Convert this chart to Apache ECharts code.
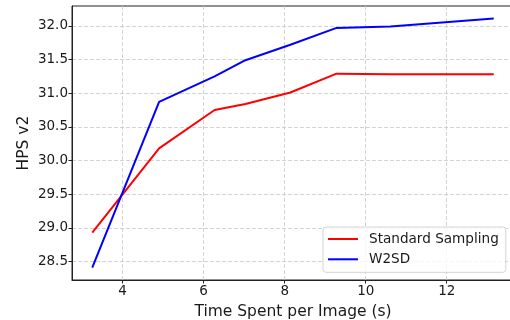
<!DOCTYPE html>
<html>
<head>
<meta charset="utf-8">
<script src="https://cdn.jsdelivr.net/npm/echarts@6/dist/echarts.min.js"></script>
<style>
  html, body { margin: 0; padding: 0; background: #fff; }
  #chart { width: 510px; height: 320px; }
</style>
</head>
<body>
<div id="chart"></div>
<script>
// time spent per image (s), shared by both methods
const timeSpent = [3.25, 4.9, 6.27, 7.03, 8.14, 9.28, 10.61, 13.16];
const standardSampling = [28.93, 30.18, 30.75, 30.84, 31.01, 31.29, 31.28, 31.28];
const w2sd = [28.41, 30.87, 31.25, 31.49, 31.72, 31.97, 31.99, 32.11];

const xTicks = [4, 6, 8, 10, 12];
const yTicks = [28.5, 29.0, 29.5, 30.0, 30.5, 31.0, 31.5, 32.0];

const font = "DejaVu Sans";
const chart = echarts.init(document.getElementById("chart"), null, { renderer: "canvas" });

const pairs = (xs, ys) => xs.map((x, i) => [x, ys[i]]);

chart.setOption({
  animation: false,
  grid: {
    left: 72, width: 442, top: 6, bottom: 40,
    outerBoundsMode: "none",
    containLabel: false,
    show: true, borderColor: "#222", borderWidth: 1,
  },
  legend: {
    orient: "vertical",
    left: 323, top: 227,
    padding: [5, 7, 6, 5],
    itemWidth: 30, itemHeight: 2, itemGap: 6.3,
    icon: "rect",
    borderColor: "#d4d4d4", borderWidth: 1, borderRadius: 3,
    backgroundColor: "rgba(255,255,255,0.8)",
    textStyle: { fontFamily: font, fontSize: 13.6, color: "#1a1a1a", lineHeight: 14, padding: [0, 0, 0, 6] },
    data: ["Standard Sampling", "W2SD"],
  },
  xAxis: {
    type: "value",
    min: 2.75, max: 13.66,
    name: "Time Spent per Image (s)",
    nameLocation: "middle", nameGap: 24,
    nameTextStyle: { fontFamily: font, fontSize: 15.5, color: "#1a1a1a" },
    axisLine: { show: true, lineStyle: { color: "#222", width: 1 } },
    axisTick: { show: true, length: 3.5, inside: false, customValues: xTicks, lineStyle: { color: "#222" } },
    axisLabel: { customValues: xTicks, fontFamily: font, fontSize: 13.5, color: "#1a1a1a", margin: 4 },
    splitLine: { show: true, lineStyle: { color: "#c8c8c8", width: 0.8, type: [4, 2] } },
  },
  yAxis: {
    type: "value",
    min: 28.225, max: 32.295,
    name: "HPS v2",
    nameLocation: "middle", nameGap: 40,
    nameMoveOverlap: false,
    nameTextStyle: { fontFamily: font, fontSize: 15.5, color: "#1a1a1a" },
    axisLine: { show: true, lineStyle: { color: "#222", width: 1 } },
    axisTick: { show: true, length: 3.5, inside: false, customValues: yTicks, lineStyle: { color: "#222" } },
    axisLabel: {
      customValues: yTicks, fontFamily: font, fontSize: 13.5, color: "#1a1a1a", margin: 4,
      formatter: (v) => v.toFixed(1),
    },
    splitLine: { show: true, lineStyle: { color: "#c8c8c8", width: 0.8, type: [4, 2] } },
  },
  series: [
    {
      name: "Standard Sampling",
      type: "line",
      data: pairs(timeSpent, standardSampling),
      showSymbol: false,
      color: "#ff0000",
      lineStyle: { color: "#ff0000", width: 2 },
    },
    {
      name: "W2SD",
      type: "line",
      data: pairs(timeSpent, w2sd),
      showSymbol: false,
      color: "#0000ff",
      lineStyle: { color: "#0000ff", width: 2 },
    },
  ],
});
</script>
</body>
</html>
